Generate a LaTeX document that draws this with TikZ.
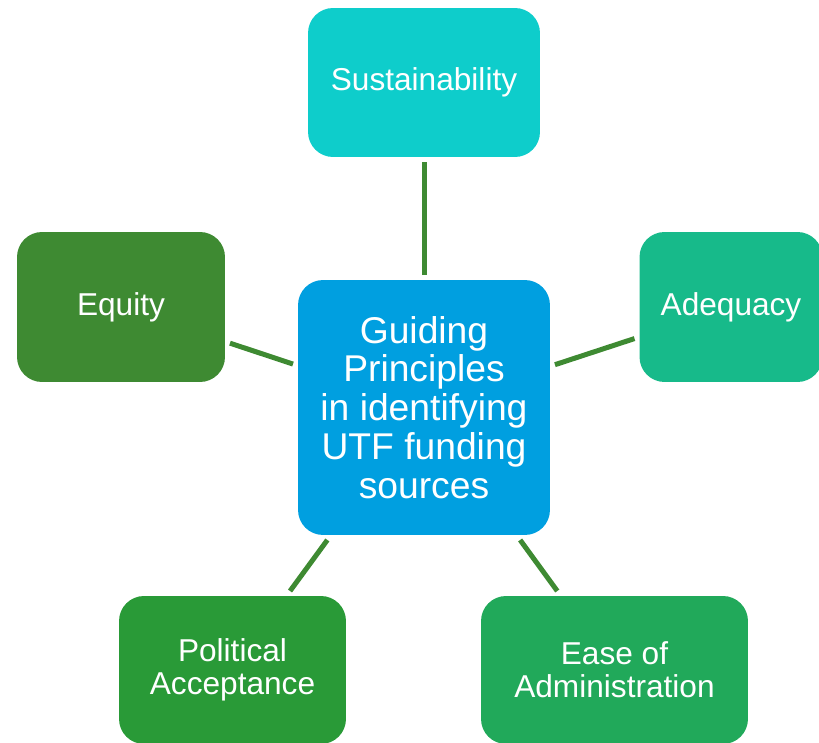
\documentclass[tikz,border=0pt]{standalone}
\usepackage{fontspec}
\setmainfont{Liberation Sans}

\definecolor{guideblue}{HTML}{009FE0}
\definecolor{sustcol}{HTML}{0ECDCB}
\definecolor{adeqcol}{HTML}{17BA8A}
\definecolor{equcol}{HTML}{3E8A32}
\definecolor{polcol}{HTML}{299A37}
\definecolor{easecol}{HTML}{21A95A}
\definecolor{linkgreen}{HTML}{3E8A32}

\tikzset{
  principle/.style={rounded corners=0.5cm, text=white, align=center, inner sep=0pt,
    outer sep=0.1cm, font=\fontsize{18}{18.7}\selectfont},
  link/.style={line width=0.1cm, draw=linkgreen},
}

\begin{document}
\begin{tikzpicture}[x=0.02cm, y=-0.02cm]
    \useasboundingbox (0,0) rectangle (819,743);

    \node[principle, fill=guideblue, minimum width=5.04cm, minimum height=5.1cm,
          font=\fontsize{21.2}{22.1}\selectfont] (guide) at (424,407.5)
          {Guiding\\Principles\\in identifying\\UTF funding\\sources};

    \node[principle, fill=sustcol, minimum width=4.64cm, minimum height=2.98cm] (sust) at (424,82.5) {Sustainability};
    \node[principle, fill=equcol, minimum width=4.16cm, minimum height=3cm] (equity) at (121,307) {Equity};
    \node[principle, fill=adeqcol, minimum width=3.66cm, minimum height=3cm] (adeq) at (731,307) {Adequacy};
    \node[principle, fill=polcol, minimum width=4.54cm, minimum height=2.96cm] (polit) at (232.5,670) {Political\\Acceptance};
    \node[principle, fill=easecol, minimum width=5.34cm, minimum height=2.96cm] (ease) at (614.5,670) {Ease of\\Administration};

    \draw[link] (guide) -- (sust);
    \draw[link] (guide) -- (equity);
    \draw[link] (guide) -- (adeq);
    \draw[link] (guide) -- (polit);
    \draw[link] (guide) -- (ease);
\end{tikzpicture}
\end{document}
